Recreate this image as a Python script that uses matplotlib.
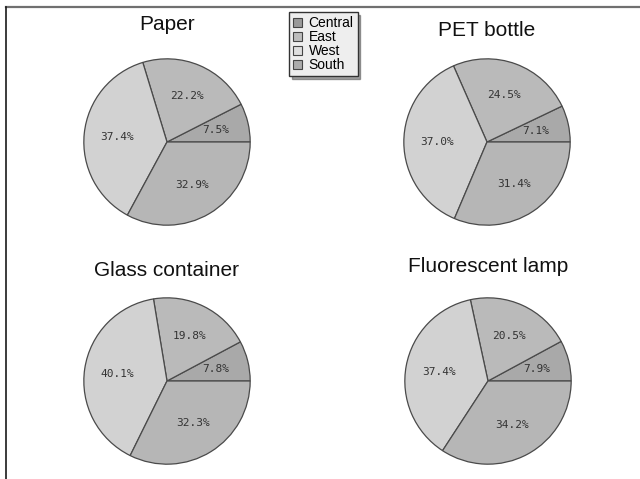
import matplotlib.pyplot as plt
from matplotlib.lines import Line2D
from matplotlib.patches import Patch

# 地域別の回収割合
regions = ['Central', 'East', 'West', 'South']
titles = ['Paper', 'PET bottle', 'Glass container', 'Fluorescent lamp']
paper = [7.5, 22.2, 37.4, 32.9]
pet_bottle = [7.1, 24.5, 37.0, 31.4]
glass_container = [7.8, 19.8, 40.1, 32.3]
fluorescent_lamp = [7.9, 20.5, 37.4, 34.2]
series = [paper, pet_bottle, glass_container, fluorescent_lamp]

colors = ['#a9a9a9', '#bababa', '#d2d2d2', '#b6b6b6']
legend_colors = ['#9a9a9a', '#bdbdbd', '#dedede', '#ababab']

W, H = 640, 479
fig = plt.figure(figsize=(W / 100, H / 100), dpi=100)

# 円の中心(px)と半径, タイトル位置(px)
centers = [(167, 142), (487, 142), (167, 381), (488, 381)]
title_y = [25, 30, 270, 266]
r = 84

for vals, title, (cx, cy), ty in zip(series, titles, centers, title_y):
    ax = fig.add_axes([(cx - r) / W, 1 - (cy + r) / H, 2 * r / W, 2 * r / H])
    ax.pie(vals, colors=colors, startangle=0, counterclock=True,
           autopct='%.1f%%', pctdistance=0.6,
           wedgeprops=dict(edgecolor='#4a4a4a', linewidth=0.9),
           textprops=dict(family='DejaVu Sans Mono', fontsize=8, color='#333333'))
    ax.set_xlim(-1.01, 1.01)
    ax.set_ylim(-1.01, 1.01)
    ax.set_aspect('equal')
    fig.text(cx / W, 1 - ty / H, title, ha='center', va='center',
             family='Liberation Sans', fontsize=15, color='#111111')

# 枠線(上と左)
fig.add_artist(Line2D([6 / W, 1], [1 - 7 / H, 1 - 7 / H], color='#707070', lw=1.6))
fig.add_artist(Line2D([6 / W, 6 / W], [1 - 7 / H, 0], color='#1a1a1a', lw=1.2))

# 凡例
handles = [Patch(facecolor=c, edgecolor='#444444', linewidth=0.8) for c in legend_colors]
fig.legend(handles, regions, loc='upper left', bbox_to_anchor=(289 / W, 1 - 12 / H),
           prop=dict(family='Liberation Sans', size=10), frameon=True, fancybox=False,
           shadow=True, facecolor='#eeeeee', edgecolor='#333333', framealpha=1,
           borderpad=0.3, labelspacing=0.0, handlelength=0.6, handleheight=0.6,
           handletextpad=0.5, borderaxespad=0)

fig.savefig('out.png', dpi=100, facecolor='white')
